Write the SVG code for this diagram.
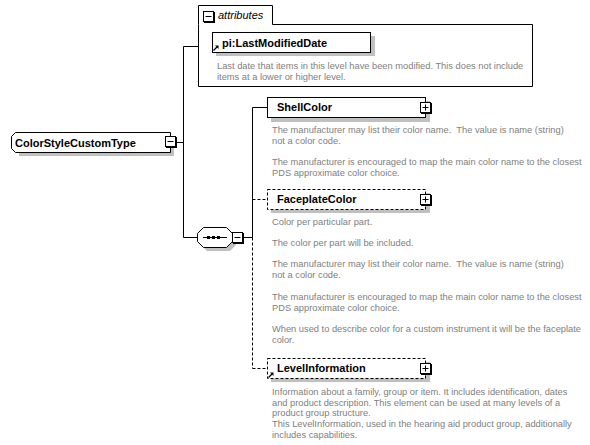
<svg xmlns="http://www.w3.org/2000/svg" width="590" height="445" viewBox="0 0 590 445">
<style>
.box{fill:#fff;stroke:#000;stroke-width:1}
.dash{stroke-dasharray:3,2}
.shadow{fill:#c0c0c0;stroke:none}
.line{fill:none;stroke:#000;stroke-width:1}
.title{font-family:"Liberation Sans",Arial,sans-serif;font-size:11px;font-weight:bold;fill:#000}
.ital{font-family:"Liberation Sans",Arial,sans-serif;font-size:11px;font-style:italic;fill:#000}
.desc{font-family:"Liberation Sans",Arial,sans-serif;font-size:9.3px;fill:#808080;white-space:pre}
.icon{fill:#fff;stroke:#000;stroke-width:1}
</style>
<defs>
<g id="plus"><rect x="1" y="1" width="11" height="11" fill="#000"/><rect class="icon" x="0.5" y="0.5" width="10" height="10"/><path class="line" d="M2.5 5.5H8.5M5.5 2.5V8.5"/></g>
<g id="minus"><rect x="1" y="1" width="11" height="11" fill="#000"/><rect class="icon" x="0.5" y="0.5" width="10" height="10"/><path class="line" d="M2.5 5.5H8.5"/></g>
<g id="ref"><path d="M0.5 5.5L4 2" stroke="#000" stroke-width="1.2" fill="none"/><path d="M2 0.5H5.5V4Z" fill="#000"/></g>
</defs>

<g id="connectors">
<path class="line" d="M175 142.5H183.5M183.5 46.5V237.5M183.5 46.5H198M183.5 237.5H198"/>
<path class="line" d="M243 237.5H252.5M252.5 107.5V237.5M252.5 107.5H267"/>
<path class="line dash" d="M252.5 237.5V368.5M252.5 199.5H267M252.5 368.5H267"/>
</g>

<g id="ColorStyleCustomType">
<path class="shadow" d="M19 136H174V156H19Z"/>
<path class="box" d="M15.5 132.5H170.5V152.5H15.5L11.5 148.5V136.5Z"/>
<text class="title" x="15" y="146.5">ColorStyleCustomType</text>
<use href="#minus" x="165" y="136"/>
</g>

<g id="attributes">
<path class="box" d="M198.5 24.5V5.5H272.5V24.5H532.5V86.5H198.5Z"/>
<use href="#minus" x="203" y="11"/>
<text class="ital" x="218" y="19">attributes</text>
<g id="LastModifiedDate">
<rect class="shadow" x="216" y="36" width="159" height="20"/>
<rect class="box" x="212.5" y="32.5" width="158" height="20"/>
<use href="#ref" x="213" y="45"/>
<text class="title" x="222" y="46.5">pi:LastModifiedDate</text>
</g>
<text class="desc" x="217" y="68.5">Last date that items in this level have been modified. This does not include</text>
<text class="desc" x="217" y="79.5">items at a lower or higher level.</text>
</g>

<g id="sequence">
<path class="shadow" d="M207 231H230L236 237V245L230 251H207L201 245V237Z"/>
<path class="box" d="M203.5 227.5H226.5L232.5 233.5V241.5L226.5 247.5H203.5L197.5 241.5V233.5Z"/>
<path class="line" d="M203 237.5H227"/>
<rect x="207" y="236" width="3" height="3" fill="#000"/>
<rect x="212" y="236" width="3" height="3" fill="#000"/>
<rect x="217" y="236" width="3" height="3" fill="#000"/>
<use href="#minus" x="232" y="232"/>
</g>

<g id="ShellColor">
<rect class="shadow" x="271" y="101" width="159" height="21"/>
<rect class="box" x="267.5" y="97.5" width="158" height="20"/>
<text class="title" x="277" y="111">ShellColor</text>
<use href="#plus" x="420" y="102"/>
<text class="desc" x="272" y="132.5">The manufacturer may list their color name.  The value is name (string)</text>
<text class="desc" x="272" y="143.5">not a color code.</text>
<text class="desc" x="272" y="164.5">The manufacturer is encouraged to map the main color name to the closest</text>
<text class="desc" x="272" y="175.5">PDS approximate color choice.</text>
</g>

<g id="FaceplateColor">
<rect class="shadow" x="271" y="193" width="159" height="20"/>
<rect class="box dash" x="267.5" y="189.5" width="158" height="20"/>
<text class="title" x="277" y="203">FaceplateColor</text>
<use href="#plus" x="420" y="194"/>
<text class="desc" x="272" y="225">Color per particular part.</text>
<text class="desc" x="272" y="246">The color per part will be included.</text>
<text class="desc" x="272" y="267">The manufacturer may list their color name.  The value is name (string)</text>
<text class="desc" x="272" y="278">not a color code.</text>
<text class="desc" x="272" y="300">The manufacturer is encouraged to map the main color name to the closest</text>
<text class="desc" x="272" y="311">PDS approximate color choice.</text>
<text class="desc" x="272" y="332">When used to describe color for a custom instrument it will be the faceplate</text>
<text class="desc" x="272" y="343">color.</text>
</g>

<g id="LevelInformation">
<rect class="shadow" x="271" y="362" width="159" height="20"/>
<rect class="box dash" x="267.5" y="358.5" width="158" height="20"/>
<use href="#ref" x="268" y="372"/>
<text class="title" x="277" y="372">LevelInformation</text>
<use href="#plus" x="420" y="363"/>
<text class="desc" x="272" y="395">Information about a family, group or item. It includes identification, dates</text>
<text class="desc" x="272" y="405.5">and product description. This element can be used at many levels of a</text>
<text class="desc" x="272" y="416">product group structure.</text>
<text class="desc" x="272" y="427">This LevelInformation, used in the hearing aid product group, additionally</text>
<text class="desc" x="272" y="438">includes capabilities.</text>
</g>
</svg>
